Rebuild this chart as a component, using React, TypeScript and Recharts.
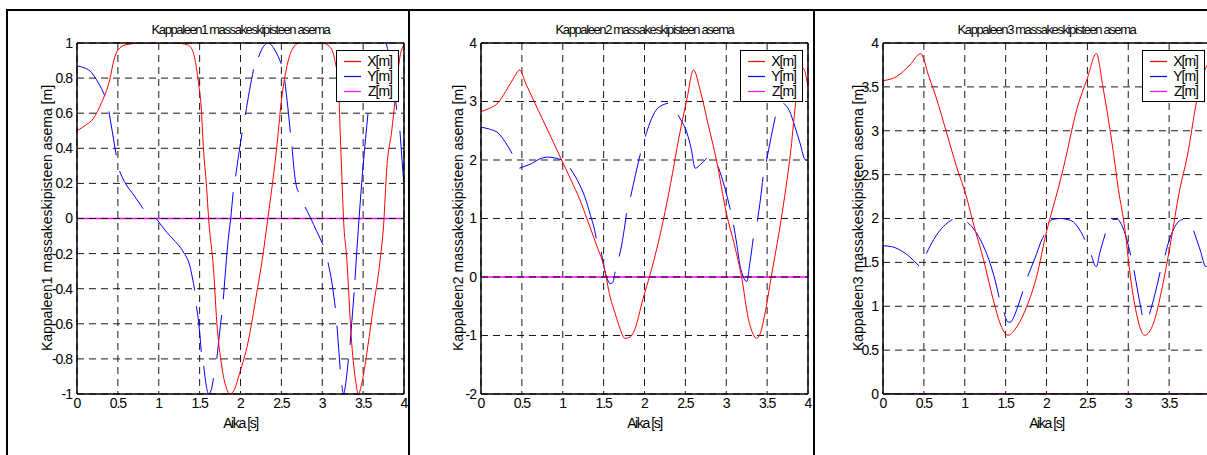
import { LineChart, Line, XAxis, YAxis, CartesianGrid, ReferenceLine, Legend } from "recharts";

type Pt = [number, number | null];

const timeTicks = [0, 0.5, 1, 1.5, 2, 2.5, 3, 3.5, 4];
const k1Ticks = [-1, -0.8, -0.6, -0.4, -0.2, 0, 0.2, 0.4, 0.6, 0.8, 1];
const k2Ticks = [-2, -1, 0, 1, 2, 3, 4];
const k3Ticks = [0, 0.5, 1, 1.5, 2, 2.5, 3, 3.5, 4];

const legendNames = ["X[m]", "Y[m]", "Z[m]"];
const seriesColors = ["#ff0000", "#0000ff", "#ff00ff"];
const titles = [
  "Kappaleen1 massakeskipisteen asema",
  "Kappaleen2 massakeskipisteen asema",
  "Kappaleen3 massakeskipisteen asema",
];
const yLabels = [
  "Kappaleen1 massakeskipisteen asema [m]",
  "Kappaleen2 massakeskipisteen asema [m]",
  "Kappaleen3 massakeskipisteen asema [m]",
];
const xLabel = "Aika [s]";

// kappale 1
const k1X: Pt[] = [
  [0, 0.5], [0.1, 0.53], [0.2, 0.57], [0.3, 0.66], [0.4, 0.79], [0.45, 0.9], [0.5, 0.96], [0.6, 0.99],
  [0.8, 1.0], [1.2, 1.0], [1.35, 0.99], [1.42, 0.95], [1.46, 0.86], [1.49, 0.76], [1.52, 0.63],
  [1.545, 0.41], [1.585, 0.18], [1.61, 0.0], [1.67, -0.29], [1.71, -0.59], [1.77, -0.84], [1.83, -0.97],
  [1.87, -1.0], [1.93, -0.97], [1.99, -0.88], [2.09, -0.71], [2.2, -0.42], [2.28, -0.19], [2.32, -0.05],
  [2.38, 0.16], [2.44, 0.39], [2.5, 0.67], [2.56, 0.85], [2.64, 0.97], [2.72, 1.0], [3.0, 1.0],
  [3.09, 0.98], [3.155, 0.9], [3.2, 0.75], [3.22, 0.48], [3.24, 0.24], [3.26, 0.0], [3.3, -0.23],
  [3.36, -0.71], [3.41, -0.93], [3.44, -1.0], [3.5, -0.9], [3.56, -0.72], [3.62, -0.52], [3.71, -0.23],
  [3.75, -0.04], [3.79, 0.29], [3.85, 0.5], [3.89, 0.67], [3.95, 0.92], [4.0, 0.99],
];
const k1Y: Pt[] = [
  [0, 0.87], [0.08, 0.86], [0.16, 0.84], [0.24, 0.79], [0.3, 0.74], [0.34, 0.7], [0.36, null],
  [0.39, 0.61], [0.43, 0.5], [0.48, 0.36], [0.5, null],
  [0.52, 0.27], [0.58, 0.21], [0.7, 0.13], [0.81, 0.055], [0.89, null],
  [0.97, 0.0], [1.1, -0.08], [1.2, -0.13], [1.3, -0.19], [1.38, -0.27], [1.44, -0.41], [1.45, null],
  [1.46, -0.5], [1.49, -0.6], [1.52, -0.76], [1.535, null],
  [1.55, -0.84], [1.58, -0.95], [1.61, -1.0], [1.64, -0.98], [1.67, -0.91], [1.69, null],
  [1.71, -0.8], [1.74, -0.67], [1.77, -0.55], [1.78, null],
  [1.79, -0.46], [1.85, -0.12], [1.88, 0.0], [1.91, 0.15], [1.925, null],
  [1.94, 0.24], [1.98, 0.37], [2.02, 0.49], [2.04, null],
  [2.06, 0.59], [2.11, 0.73], [2.16, 0.85], [2.19, null],
  [2.22, 0.92], [2.28, 0.98], [2.34, 1.0], [2.42, 0.96], [2.5, 0.88], [2.52, null],
  [2.54, 0.79], [2.58, 0.63], [2.61, 0.49], [2.62, null],
  [2.63, 0.41], [2.67, 0.22], [2.71, 0.15], [2.75, null],
  [2.79, 0.065], [2.86, 0.0], [2.93, -0.07], [3.01, -0.15], [3.04, null],
  [3.07, -0.25], [3.12, -0.37], [3.16, -0.51], [3.17, null],
  [3.18, -0.61], [3.22, -0.86], [3.23, null],
  [3.24, -0.95], [3.26, -1.0], [3.29, -0.93], [3.32, -0.8], [3.33, null],
  [3.34, -0.72], [3.39, -0.42], [3.395, null],
  [3.4, -0.35], [3.45, 0.0], [3.5, 0.3], [3.56, 0.6], [3.6, null],
  [3.78, 1.0], [3.85, 0.85], [3.91, 0.62], [3.93, null],
  [3.95, 0.5], [4.0, 0.18],
];
const k1Z: Pt[] = [[0, 0], [4, 0]];

// kappale 2
const k2X: Pt[] = [
  [0, 2.83], [0.1, 2.88], [0.21, 2.98], [0.3, 3.17], [0.4, 3.4], [0.47, 3.54], [0.55, 3.3], [0.7, 2.85],
  [0.86, 2.38], [0.97, 2.05], [1.1, 1.66], [1.21, 1.32], [1.3, 0.98], [1.42, 0.52], [1.5, 0.2],
  [1.58, -0.34], [1.64, -0.62], [1.7, -0.88], [1.76, -1.05], [1.82, -1.03], [1.88, -0.9], [1.98, -0.38],
  [2.07, 0.05], [2.23, 0.97], [2.32, 1.6], [2.41, 2.3], [2.52, 3.05], [2.6, 3.54], [2.68, 3.2],
  [2.78, 2.6], [2.88, 2.0], [3.0, 1.1], [3.1, 0.55], [3.19, -0.02], [3.27, -0.71], [3.33, -0.98],
  [3.37, -1.05], [3.42, -0.95], [3.47, -0.65], [3.55, 0.0], [3.67, 0.97], [3.79, 2.17], [3.86, 3.1],
  [3.94, 3.57], [4.0, 3.25],
];
const k2Y: Pt[] = [
  [0, 2.56], [0.1, 2.53], [0.21, 2.46], [0.3, 2.3], [0.38, 2.11], [0.42, null],
  [0.47, 1.86], [0.55, 1.9], [0.62, 1.94], [0.72, 2.02], [0.82, 2.05], [0.92, 2.03], [0.99, 2.0], [1.04, null],
  [1.09, 1.86], [1.18, 1.65], [1.27, 1.37], [1.34, 1.05], [1.39, 0.8], [1.41, 0.66], [1.44, null],
  [1.47, 0.43], [1.53, 0.03], [1.58, -0.11], [1.61, -0.1], [1.64, 0.09], [1.665, null],
  [1.69, 0.35], [1.73, 0.62], [1.76, 0.89], [1.78, 1.09], [1.8, null],
  [1.83, 1.37], [1.89, 1.75], [1.95, 2.11], [1.98, null],
  [2.01, 2.4], [2.07, 2.65], [2.14, 2.85], [2.22, 2.94], [2.29, 2.97], [2.35, null],
  [2.41, 2.77], [2.46, 2.65], [2.52, 2.46], [2.57, 2.2], [2.62, 1.86], [2.69, 1.93], [2.76, 2.03], [2.83, null],
  [2.9, 1.89], [2.98, 1.54], [3.05, 1.15], [3.075, null],
  [3.09, 0.89], [3.13, 0.55], [3.17, 0.18], [3.21, 0.0], [3.25, -0.08], [3.29, 0.25], [3.33, 0.66], [3.355, null],
  [3.38, 0.95], [3.42, 1.35], [3.45, 1.71], [3.47, null],
  [3.49, 1.97], [3.55, 2.4], [3.6, 2.74], [3.65, null],
  [3.7, 2.97], [3.77, 2.85], [3.84, 2.57], [3.9, 2.3], [3.97, 2.0], [4.0, 2.0],
];
const k2Z: Pt[] = [[0, 0], [4, 0]];

// kappale 3
const k3X: Pt[] = [
  [0, 3.57], [0.17, 3.62], [0.33, 3.75], [0.46, 3.88], [0.56, 3.62], [0.66, 3.35], [0.78, 2.97],
  [0.9, 2.59], [1.02, 2.25], [1.1, 1.96], [1.23, 1.53], [1.35, 1.07], [1.43, 0.81], [1.53, 0.67],
  [1.64, 0.77], [1.76, 1.0], [1.88, 1.34], [2.0, 1.85], [2.14, 2.33], [2.21, 2.59], [2.37, 3.24],
  [2.5, 3.6], [2.61, 3.88], [2.69, 3.5], [2.82, 2.74], [2.88, 2.33], [2.96, 1.87], [3.02, 1.38],
  [3.1, 0.92], [3.2, 0.67], [3.31, 0.81], [3.41, 1.19], [3.51, 1.68], [3.63, 2.33], [3.72, 2.7],
  [3.84, 3.35], [3.92, 3.65], [4.0, 3.8],
];
const k3Y: Pt[] = [
  [0, 1.69], [0.1, 1.68], [0.21, 1.64], [0.33, 1.56], [0.44, 1.46], [0.48, null],
  [0.53, 1.6], [0.62, 1.76], [0.74, 1.91], [0.85, 1.99], [0.94, null],
  [1.03, 1.96], [1.11, 1.88], [1.19, 1.76], [1.25, 1.64], [1.31, 1.49], [1.37, 1.3], [1.42, 1.1], [1.45, null],
  [1.48, 0.93], [1.53, 0.82], [1.56, 0.82], [1.59, 0.86], [1.65, 1.0], [1.71, 1.17], [1.74, null],
  [1.77, 1.34], [1.83, 1.48], [1.88, 1.6], [1.93, 1.73], [1.97, 1.81], [2.0, null],
  [2.02, 1.95], [2.08, 1.99], [2.17, 2.0], [2.25, 1.99], [2.33, 1.96], [2.4, 1.88], [2.47, 1.76], [2.51, null],
  [2.55, 1.58], [2.61, 1.45], [2.65, 1.6], [2.72, 1.83], [2.77, null],
  [2.81, 1.99], [2.87, 1.99], [2.9, 1.96], [2.97, 1.8], [3.03, 1.58], [3.05, null],
  [3.07, 1.41], [3.12, 1.15], [3.17, 0.9], [3.215, null],
  [3.26, 0.91], [3.33, 1.15], [3.39, 1.39], [3.42, null],
  [3.45, 1.58], [3.5, 1.75], [3.55, 1.87], [3.61, 1.96], [3.67, 1.99], [3.74, null],
  [3.8, 1.86], [3.88, 1.64], [3.95, 1.45], [3.98, 1.47],
];
const k3Z: Pt[] = [[0, 0], [4, 0]];

const FONT = "'Liberation Sans', Arial, sans-serif";
const GRID = "#1a1a1a";
const DASH = "7 5";
const rows = (pts: Pt[]) => pts.map(([t, v]) => ({ t, v }));

const LegendBox = () => (
  <div
    style={{
      boxSizing: "border-box",
      width: 63,
      height: 52,
      border: "1px solid #000",
      background: "#fff",
      paddingTop: 3,
      fontFamily: FONT,
      color: "#000",
    }}
  >
    {legendNames.map((n, i) => (
      <div key={n} style={{ display: "flex", alignItems: "center", height: 15 }}>
        <svg width={17} height={3} style={{ marginLeft: 7, display: "block" }}>
          <line x1={0} y1={1.5} x2={17} y2={1.5} stroke={seriesColors[i]} strokeWidth={1.2} />
        </svg>
        <span style={{ marginLeft: "auto", marginRight: 6, fontSize: 14, letterSpacing: -1, lineHeight: "15px" }}>
          {n}
        </span>
      </div>
    ))}
  </div>
);

type PanelProps = {
  plotLeft: number;
  domain: [number, number];
  ticks: number[];
  x: Pt[];
  y: Pt[];
  z: Pt[];
  title: string;
  ylabel: string;
  ylabelOffset: number;
  zeroDash: boolean;
  hideLastX?: boolean;
};

function Panel({ plotLeft, domain, ticks, x, y, z, title, ylabel, ylabelOffset, zeroDash, hideLastX }: PanelProps) {
  const axisW = 70;
  const plotW = 327;
  const center = plotLeft + plotW / 2;
  const tick = { fontSize: 14, fill: "#000", fontFamily: FONT, letterSpacing: -1 };
  return (
    <>
      <div style={{ position: "absolute", left: center, top: 29, transform: "translate(-50%, -50%)", fontSize: 13, letterSpacing: -1.4, whiteSpace: "nowrap" }}>
        {title}
      </div>
      <div style={{ position: "absolute", left: plotLeft - ylabelOffset, top: 218, transform: "translate(-50%, -50%) rotate(-90deg)", fontSize: 14, whiteSpace: "nowrap" }}>
        {ylabel}
      </div>
      <div style={{ position: "absolute", left: center, top: 423, transform: "translate(-50%, -50%)", fontSize: 14, letterSpacing: -1.4, whiteSpace: "nowrap" }}>
        {xLabel}
      </div>
      <div style={{ position: "absolute", left: plotLeft - axisW, top: 0 }}>
        <LineChart width={axisW + plotW + 5} height={424} margin={{ top: 43, right: 5, bottom: 0, left: 0 }}>
          <CartesianGrid stroke={GRID} strokeDasharray={DASH} />
          <XAxis
            dataKey="t"
            type="number"
            domain={[0, 4]}
            ticks={timeTicks}
            allowDataOverflow
            height={30}
            tickLine={false}
            tickSize={0}
            tickMargin={4}
            axisLine={{ stroke: "#000", strokeWidth: 1.5 }}
            tick={tick}
            tickFormatter={(v: number) => (hideLastX && v === 4 ? "" : String(v))}
          />
          <YAxis
            type="number"
            domain={domain}
            ticks={ticks}
            allowDataOverflow
            width={axisW}
            tickLine={false}
            tickSize={0}
            tickMargin={5}
            axisLine={{ stroke: "#000", strokeWidth: 1.5 }}
            tick={tick}
          />
          <Line data={rows(z)} dataKey="v" type="linear" stroke={seriesColors[2]} strokeWidth={1.5} dot={false} isAnimationActive={false} />
          <Line data={rows(y)} dataKey="v" type="monotone" stroke={seriesColors[1]} strokeWidth={1} dot={false} connectNulls={false} isAnimationActive={false} />
          <Line data={rows(x)} dataKey="v" type="monotone" stroke={seriesColors[0]} strokeWidth={1} dot={false} isAnimationActive={false} />
          {zeroDash && <ReferenceLine y={0} stroke={GRID} strokeDasharray={DASH} />}
          <ReferenceLine y={domain[1]} stroke="#000" strokeWidth={1.5} />
          <ReferenceLine x={4} stroke="#000" strokeWidth={1.5} />
          <Legend
            layout="horizontal"
            align="center"
            verticalAlign="middle"
            content={() => <LegendBox />}
            wrapperStyle={{ left: axisW + plotW - 5 - 63, top: 50, width: 63, height: 52 }}
          />
        </LineChart>
      </div>
    </>
  );
}

export default function App() {
  const line = (l: number, t: number, w: number, h: number) => (
    <div style={{ position: "absolute", left: l, top: t, width: w, height: h, background: "#000" }} />
  );
  return (
    <div
      style={{
        position: "absolute",
        left: 0,
        top: 0,
        width: 1207,
        height: 455,
        overflow: "hidden",
        background: "#fff",
        fontFamily: FONT,
        color: "#000",
      }}
    >
      <Panel plotLeft={77} domain={[-1, 1]} ticks={k1Ticks} x={k1X} y={k1Y} z={k1Z} title={titles[0]} ylabel={yLabels[0]} ylabelOffset={30} zeroDash />
      <Panel plotLeft={481} domain={[-2, 4]} ticks={k2Ticks} x={k2X} y={k2Y} z={k2Z} title={titles[1]} ylabel={yLabels[1]} ylabelOffset={23} zeroDash />
      <Panel plotLeft={883} domain={[0, 4]} ticks={k3Ticks} x={k3X} y={k3Y} z={k3Z} title={titles[2]} ylabel={yLabels[2]} ylabelOffset={25} zeroDash={false} hideLastX />
      {line(6, 9, 1201, 2)}
      {line(6, 9, 2, 446)}
      {line(408, 9, 2, 446)}
      {line(813, 9, 2, 446)}
    </div>
  );
}
